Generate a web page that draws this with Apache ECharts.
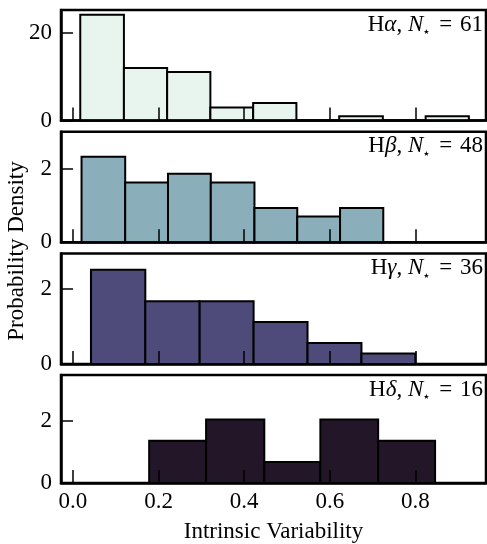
<!DOCTYPE html>
<html>
<head>
  <meta charset="utf-8">
  <style>
    html, body { margin: 0; padding: 0; background: #fff; }
    #main { width: 487px; height: 544px; }
  </style>
</head>
<body>
  <div id="main"></div>
</body>
<script src="https://cdn.jsdelivr.net/npm/echarts@6/dist/echarts.min.js"></script>
<script>
  // bin edges and heights for each line
  var edgesA = [0.017, 0.119, 0.220, 0.321, 0.421, 0.522, 0.622, 0.724, 0.824, 0.925];
  var heightsA = [24.2, 12.0, 11.1, 3.0, 4.0, 0, 1.0, 0, 1.0];
  var edgesB = [0.020, 0.122, 0.222, 0.322, 0.424, 0.524, 0.624, 0.725];
  var heightsB = [2.32, 1.62, 1.86, 1.62, 0.93, 0.70, 0.93];
  var edgesG = [0.042, 0.169, 0.296, 0.422, 0.548, 0.674, 0.800];
  var heightsG = [2.52, 1.68, 1.68, 1.12, 0.56, 0.28];
  var edgesD = [0.178, 0.311, 0.447, 0.578, 0.713, 0.846];
  var heightsD = [1.37, 2.05, 0.68, 2.05, 1.37];

  var greek = ['α', 'β', 'γ', 'δ'];
  var counts = [61, 48, 36, 16];
  var colors = ['#e8f4ee', '#8aafba', '#4e4a79', '#221628'];
  var yMax = [25.3, 3.0, 2.96, 3.49];
  var yTicks = [[0, 20], [0, 2], [0, 2], [0, 2]];
  var xTicks = [0, 0.2, 0.4, 0.6, 0.8];

  var panels = [[edgesA, heightsA], [edgesB, heightsB], [edgesG, heightsG], [edgesD, heightsD]];
  var tops = [10, 131.7, 253.4, 375.1];
  var font = 'Liberation Serif';
  var fs = 23;

  var grids = [], xAxes = [], yAxes = [], series = [], graphics = [];

  panels.forEach(function(p, i) {
    var edges = p[0], heights = p[1];
    grids.push({
      left: 61, width: 425, top: tops[i], height: 110.5,
      show: true, borderColor: '#000', borderWidth: 2.5, backgroundColor: 'transparent'
    });
    xAxes.push({
      type: 'value', gridIndex: i, min: -0.028, max: 0.965, z: 5,
      axisLine: { show: true, onZero: false, lineStyle: { color: '#000', width: 2.5 } },
      splitLine: { show: false },
      axisTick: { show: true, inside: true, length: 13, customValues: xTicks,
        lineStyle: { color: '#000', width: 1.5 } },
      axisLabel: { show: i === 3, customValues: xTicks, margin: 7,
        fontFamily: font, fontSize: fs, color: '#000',
        formatter: function(v) { return v.toFixed(1); } },
      name: i === 3 ? 'Intrinsic Variability' : '',
      nameLocation: 'middle', nameGap: 37,
      nameTextStyle: { fontFamily: font, fontSize: fs, color: '#000' }
    });
    yAxes.push({
      type: 'value', gridIndex: i, min: 0, max: yMax[i], z: 5,
      axisLine: { show: true, onZero: false, lineStyle: { color: '#000', width: 2.5 } },
      splitLine: { show: false },
      axisTick: { show: true, inside: true, length: 12, customValues: yTicks[i],
        lineStyle: { color: '#000', width: 1.5 } },
      axisLabel: { customValues: yTicks[i], margin: 9,
        fontFamily: font, fontSize: fs, color: '#000' }
    });
    var data = [];
    for (var k = 0; k < heights.length; k++) {
      data.push([edges[k], edges[k + 1], heights[k]]);
    }
    series.push({
      type: 'custom', xAxisIndex: i, yAxisIndex: i, data: data,
      clip: false,
      renderItem: (function(col) {
        return function(params, api) {
          var a = api.coord([api.value(0), api.value(2)]);
          var b = api.coord([api.value(1), 0]);
          return {
            type: 'rect',
            shape: { x: a[0], y: a[1], width: b[0] - a[0], height: b[1] - a[1] },
            style: { fill: col, stroke: '#000', lineWidth: 2 }
          };
        };
      })(colors[i])
    });
    graphics.push({
      type: 'text', right: 4, top: tops[i] + 3,
      style: {
        text: 'H{it|' + greek[i] + '}, {it|N}{sub|★} {eq|=} ' + counts[i],
        font: fs + 'px "' + font + '"', fill: '#000',
        rich: {
          it: { fontFamily: font, fontSize: fs, fontStyle: 'italic' },
          sub: { fontFamily: 'DejaVu Sans', fontSize: 7, verticalAlign: 'bottom', padding: [10, 2, 0, 0] },
          eq: { fontFamily: font, fontSize: fs, padding: [0, 2, 0, 2] }
        }
      }
    });
  });

  graphics.push({
    type: 'text', x: 17, y: 251, rotation: Math.PI / 2,
    style: {
      text: 'Probability Density', font: fs + 'px "' + font + '"', fill: '#000',
      align: 'center', verticalAlign: 'middle'
    }
  });

  var chart = echarts.init(document.getElementById('main'));
  chart.setOption({
    animation: false,
    grid: grids,
    xAxis: xAxes,
    yAxis: yAxes,
    series: series,
    graphic: graphics
  });
</script>
</html>
